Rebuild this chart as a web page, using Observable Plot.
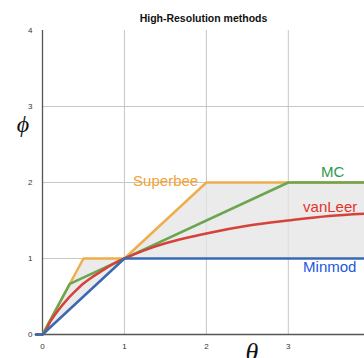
<!DOCTYPE html>
<html>
<head>
<meta charset="utf-8">
<script src="https://cdn.jsdelivr.net/npm/d3@7"></script>
<script src="https://cdn.jsdelivr.net/npm/@observablehq/plot@0.6"></script>
<style>
  html, body { margin: 0; padding: 0; background: #fff; }
  svg { display: block; }
</style>
</head>
<body>
<div id="chart"></div>
<script>
// ---- data ----
const title = "High-Resolution methods";
const xTicks = [0, 1, 2, 3];
const yTicks = [0, 1, 2, 3, 4];

const minmodTheta = [-0.08, 0, 1, 3.93];
const minmodPhi   = [0, 0, 1, 1];

const superbeeTheta = [-0.08, 0, 0.5, 1, 2, 3.93];
const superbeePhi   = [0, 0, 1, 1, 2, 2];

const mcTheta = [-0.08, 0, 0.333, 3, 3.93];
const mcPhi   = [0, 0, 0.667, 2, 2];

const vanLeerTheta = [-0.08, 0, 0.1, 0.2, 0.3, 0.4, 0.5, 0.6, 0.7, 0.8, 0.9, 1, 1.25, 1.5, 1.75, 2, 2.5, 3, 3.5, 3.93];
const vanLeerPhi   = [0, 0, 0.18, 0.33, 0.46, 0.57, 0.67, 0.75, 0.82, 0.89, 0.95, 1, 1.11, 1.2, 1.27, 1.33, 1.43, 1.5, 1.56, 1.59];

const shadeTheta = [-0.08, 0, 0.5, 1, 2, 3.93];
const shadeLow   = [0, 0, 0.5, 1, 1, 1];
const shadeHigh  = [0, 0, 1, 1, 2, 2];

const labelNames = ["Superbee", "MC", "vanLeer", "Minmod"];
const labelTheta = [1.9, 3.54, 3.18, 3.18];
const labelPhi   = [2.02, 2.13, 1.67, 0.88];

// ---- styles ----
const lineColors  = {Superbee: "#efae4c", MC: "#6ba550", vanLeer: "#d5423a", Minmod: "#3b69b1"};
const labelColors = {Superbee: "#f4a233", MC: "#2f9a4f", vanLeer: "#e2352a", Minmod: "#2457dd"};
const labelAnchor = {Superbee: "end", MC: "middle", vanLeer: "start", Minmod: "start"};

const toRows = (name, xs, ys) => xs.map((t, i) => ({name, theta: t, phi: ys[i]}));
const series = [
  ...toRows("Superbee", superbeeTheta, superbeePhi),
  ...toRows("MC", mcTheta, mcPhi),
  ...toRows("vanLeer", vanLeerTheta, vanLeerPhi),
  ...toRows("Minmod", minmodTheta, minmodPhi)
];
const shade = shadeTheta.map((t, i) => ({theta: t, lo: shadeLow[i], hi: shadeHigh[i]}));
const labels = labelNames.map((n, i) => ({name: n, theta: labelTheta[i], phi: labelPhi[i]}));

const font = "'Liberation Sans', Arial, Helvetica, sans-serif";
const intFmt = d3.format("d");

const chart = Plot.plot({
  width: 364,
  height: 358,
  marginLeft: 42,
  marginRight: 0,
  marginTop: 30,
  marginBottom: 24,
  style: {fontFamily: font, background: "#fff"},
  x: {domain: [0, 3.93]},
  y: {domain: [0, 4]},
  marks: [
    Plot.ruleX(xTicks.filter(d => d > 0), {stroke: "#c6c6c6", strokeWidth: 1}),
    Plot.ruleY(yTicks.filter(d => d > 0 && d < 4), {stroke: "#c6c6c6", strokeWidth: 1}),
    Plot.areaY(shade, {x: "theta", y1: "lo", y2: "hi", fill: "#e4e4e4", fillOpacity: 0.75}),
    Plot.ruleX([0], {stroke: "#555", strokeWidth: 1.3}),
    Plot.ruleY([0], {stroke: "#555", strokeWidth: 1.3}),
    Plot.line(series.filter(d => d.name === "Superbee"), {x: "theta", y: "phi", stroke: lineColors.Superbee, strokeWidth: 2.5}),
    Plot.line(series.filter(d => d.name === "MC"), {x: "theta", y: "phi", stroke: lineColors.MC, strokeWidth: 2.5}),
    Plot.line(series.filter(d => d.name === "vanLeer"), {x: "theta", y: "phi", stroke: lineColors.vanLeer, strokeWidth: 2.5, curve: "monotone-x"}),
    Plot.line(series.filter(d => d.name === "Minmod"), {x: "theta", y: "phi", stroke: lineColors.Minmod, strokeWidth: 2.5}),
    ...labels.map(l => Plot.text([l], {x: "theta", y: "phi", text: "name", fill: labelColors[l.name], textAnchor: labelAnchor[l.name], fontSize: 15, fontFamily: font})),
    Plot.axisX(xTicks, {tickSize: 0, tickPadding: 9, fontSize: 8, fill: "#333", label: null, tickFormat: intFmt}),
    Plot.axisY(yTicks, {tickSize: 0, tickPadding: 10, fontSize: 8, fill: "#333", label: null, tickFormat: intFmt}),
    Plot.text([title], {frameAnchor: "top", dy: -16, fontWeight: "bold", fontSize: 10.5, fill: "#111", fontFamily: font})
  ]
});

const svg = d3.select(chart);
svg.append("text")
  .attr("x", 252).attr("y", 361)
  .attr("text-anchor", "middle")
  .attr("font-family", "'Liberation Serif', 'DejaVu Serif', serif")
  .attr("font-style", "italic")
  .attr("font-size", 26)
  .attr("fill", "#111")
  .text("θ");
svg.append("text")
  .attr("x", 23).attr("y", 132)
  .attr("text-anchor", "middle")
  .attr("font-family", "'Liberation Serif', 'DejaVu Serif', serif")
  .attr("font-style", "italic")
  .attr("font-size", 24)
  .attr("fill", "#111")
  .text("ϕ");

document.getElementById("chart").appendChild(chart);
</script>
</body>
</html>
